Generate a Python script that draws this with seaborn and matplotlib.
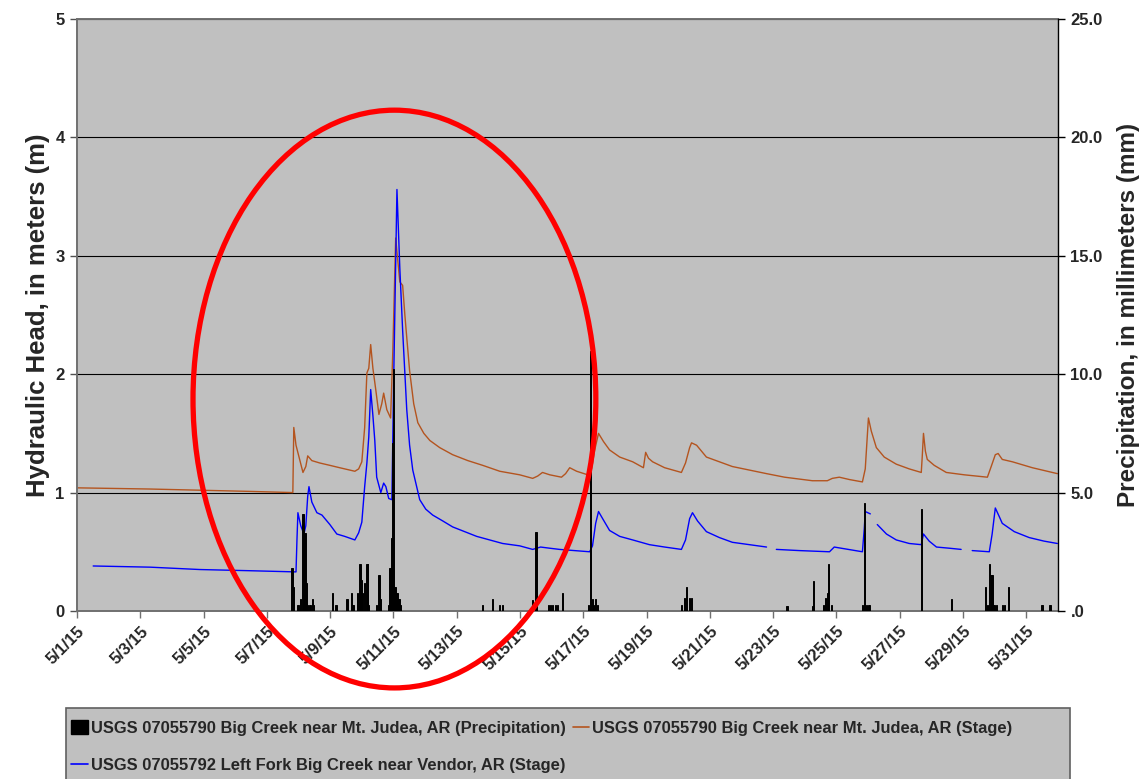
import numpy as np
import pandas as pd
import matplotlib
matplotlib.use("Agg")
import matplotlib.pyplot as plt
import matplotlib.dates as mdates
from matplotlib.patches import Ellipse, Rectangle, Patch
from matplotlib.lines import Line2D
import seaborn as sns

START = pd.Timestamp("2015-05-01")

# USGS 07055790 Big Creek near Mt. Judea, AR -- stage (days after 5/1/15 00:00, meters)
judea_days = [0.00, 2.30, 3.88, 5.46, 6.82, 6.85, 6.92, 7.14, 7.23, 7.29, 7.42, 7.67, 7.99,
              8.30, 8.78, 8.90, 9.00, 9.09, 9.16, 9.22, 9.28, 9.35, 9.44, 9.54, 9.63, 9.69,
              9.79, 9.91, 9.98, 10.07, 10.14, 10.20, 10.29, 10.36, 10.42, 10.51, 10.64, 10.77,
              10.96, 11.15, 11.46, 11.87, 12.35, 12.82, 13.36, 13.99, 14.40, 14.56, 14.71,
              14.94, 15.31, 15.44, 15.57, 15.79, 16.14, 16.26, 16.36, 16.48, 16.64, 16.83,
              17.15, 17.56, 17.90, 17.97, 18.06, 18.19, 18.57, 19.10, 19.23, 19.36, 19.42,
              19.58, 19.89, 20.30, 20.71, 21.25, 21.79, 22.36, 23.24, 23.71, 23.87, 24.09,
              24.41, 24.82, 24.91, 25.01, 25.10, 25.26, 25.51, 25.89, 26.30, 26.68, 26.71,
              26.75, 26.81, 26.87, 27.09, 27.47, 28.04, 28.77, 28.89, 29.02, 29.11, 29.24,
              29.56, 30.19, 30.98]
judea_stage = [1.04, 1.03, 1.02, 1.01, 1.00, 1.55, 1.40, 1.17, 1.22, 1.31, 1.27, 1.25, 1.23,
               1.21, 1.18, 1.20, 1.26, 1.55, 2.01, 2.05, 2.25, 2.05, 1.87, 1.66, 1.75, 1.84,
               1.70, 1.63, 2.20, 3.15, 2.95, 2.78, 2.75, 2.50, 2.31, 2.03, 1.75, 1.59,
               1.50, 1.44, 1.38, 1.32, 1.27, 1.23, 1.18, 1.15, 1.12, 1.14, 1.17,
               1.15, 1.13, 1.16, 1.21, 1.18, 1.15, 1.20, 1.36, 1.50, 1.43, 1.36,
               1.30, 1.26, 1.21, 1.34, 1.29, 1.26, 1.21, 1.17, 1.25, 1.38, 1.42,
               1.40, 1.30, 1.26, 1.22, 1.19, 1.16, 1.13, 1.10, 1.10, 1.12, 1.13,
               1.11, 1.09, 1.20, 1.63, 1.52, 1.38, 1.30, 1.24, 1.20, 1.17, 1.30,
               1.50, 1.35, 1.28, 1.23, 1.17, 1.15, 1.13, 1.22, 1.32, 1.33, 1.28,
               1.26, 1.21, 1.16]

# USGS 07055792 Left Fork Big Creek near Vendor, AR -- stage (NaN marks missing record)
vendor_days = [0.51, 2.31, 3.88, 5.46, 6.92, 6.95, 6.98, 7.07, 7.17, 7.23, 7.29, 7.33, 7.42,
               7.58, 7.74, 7.99, 8.21, 8.46, 8.78, 8.90, 9.00, 9.09, 9.16, 9.22, 9.28, 9.35,
               9.41, 9.47, 9.60, 9.69, 9.76, 9.85, 9.95, 10.01, 10.11, 10.20, 10.29, 10.42,
               10.51, 10.61, 10.83, 11.02, 11.24, 11.56, 11.87, 12.25, 12.63, 13.04, 13.45,
               13.99, 14.40, 14.65, 14.94, 15.25, 15.72, 16.20, 16.29, 16.39, 16.48, 16.61,
               16.83, 17.15, 17.56, 18.09, 18.57, 19.10, 19.23, 19.36, 19.45, 19.61, 19.89,
               20.30, 20.71, 21.25, 21.79, 21.95, 22.10, 22.83, 23.78, 23.93, 24.15, 24.82,
               24.88, 24.91, 25.07, 25.15, 25.29, 25.58, 25.89, 26.30, 26.68, 26.75, 26.93,
               27.16, 27.57, 27.94, 28.10, 28.29, 28.83, 28.92, 29.02, 29.14, 29.24, 29.62,
               30.09, 30.56, 30.98]
vendor_stage = [0.38, 0.37, 0.35, 0.34, 0.33, 0.60, 0.83, 0.72, 0.65, 0.72, 0.97, 1.05, 0.92,
                0.83, 0.81, 0.73, 0.65, 0.63, 0.60, 0.66, 0.75, 1.05, 1.25, 1.47, 1.87, 1.65,
                1.44, 1.13, 1.00, 1.08, 1.05, 0.95, 0.94, 2.00, 3.56, 2.90, 2.37, 1.70,
                1.40, 1.19, 0.94, 0.86, 0.81, 0.76, 0.71, 0.67, 0.63, 0.60, 0.57,
                0.55, 0.52, 0.54, 0.53, 0.52, 0.51, 0.50, 0.55, 0.74, 0.84, 0.78,
                0.68, 0.63, 0.60, 0.56, 0.54, 0.52, 0.60, 0.78, 0.83, 0.76, 0.67,
                0.62, 0.58, 0.56, 0.54, np.nan, 0.52, 0.51, 0.50, 0.54, 0.53, 0.50,
                0.70, 0.84, 0.82, np.nan, 0.73, 0.65, 0.60, 0.57, 0.56, 0.65, 0.59,
                0.54, 0.53, 0.52, np.nan, 0.51, 0.50, 0.65, 0.87, 0.80, 0.74, 0.67,
                0.62, 0.59, 0.57]

# USGS 07055790 hourly precipitation (days after 5/1/15 00:00, millimeters)
precip_days = [6.79, 6.82, 6.98, 7.07, 7.14, 7.20, 7.26, 7.29, 7.36, 7.45, 7.48, 8.08, 8.18,
               8.53, 8.68, 8.72, 8.87, 8.94, 9.00, 9.03, 9.09, 9.16, 9.19, 9.22, 9.47, 9.54,
               9.60, 9.85, 9.89, 9.93, 9.97, 10.01, 10.05, 10.11, 10.17, 10.23, 12.82, 13.14,
               13.36, 13.45, 14.40, 14.50, 14.90, 14.97, 15.03, 15.12, 15.19, 15.35, 16.17,
               16.23, 16.29, 16.32, 16.39, 16.45, 19.10, 19.20, 19.26, 19.36, 19.42, 22.42,
               22.45, 23.24, 23.27, 23.59, 23.65, 23.71, 23.74, 23.84, 24.82, 24.88, 24.94,
               25.01, 25.04, 26.68, 27.63, 28.70, 28.77, 28.83, 28.89, 28.92, 28.98, 29.05,
               29.24, 29.30, 29.43, 30.50, 30.75]
precip_mm = [1.8, 1.0, 0.25, 0.5, 4.1, 3.3, 1.2, 0.25, 0.25, 0.5, 0.25, 0.75, 0.25,
             0.5, 0.75, 0.25, 0.75, 2.0, 1.3, 0.75, 1.2, 2.0, 2.0, 0.25, 0.25, 1.5,
             0.5, 0.25, 1.8, 3.1, 7.1, 10.2, 1.0, 0.75, 0.5, 0.25, 0.25, 0.5,
             0.25, 0.25, 0.45, 3.35, 0.25, 0.25, 0.25, 0.25, 0.25, 0.75, 0.25,
             11.0, 0.5, 0.25, 0.5, 0.25, 0.25, 0.55, 1.0, 0.55, 0.55, 0.2,
             0.2, 0.2, 1.25, 0.25, 0.55, 0.75, 2.0, 0.25, 0.25, 4.55, 0.25,
             0.25, 0.25, 4.3, 0.5, 1.0, 0.25, 2.0, 1.5, 1.5, 0.25, 0.25,
             0.25, 0.25, 1.0, 0.25, 0.25]

tick_labels = ["5/1/15", "5/3/15", "5/5/15", "5/7/15", "5/9/15", "5/11/15", "5/13/15",
               "5/15/15", "5/17/15", "5/19/15", "5/21/15", "5/23/15", "5/25/15",
               "5/27/15", "5/29/15", "5/31/15"]
head_ticks = [0, 1, 2, 3, 4, 5]
precip_ticks = [0, 5, 10, 15, 20, 25]
precip_tick_labels = [".0", "5.0", "10.0", "15.0", "20.0", "25.0"]

LABEL_PRECIP = "USGS 07055790 Big Creek near Mt. Judea, AR (Precipitation)"
LABEL_JUDEA = "USGS 07055790 Big Creek near Mt. Judea, AR (Stage)"
LABEL_VENDOR = "USGS 07055792 Left Fork Big Creek near Vendor, AR (Stage)"

BROWN = "#B4541F"
BLUE = "#0000FF"
PANEL = "#C0C0C0"


def to_time(days):
    return START + pd.to_timedelta(np.asarray(days, dtype=float), unit="D")


judea = pd.DataFrame({"time": to_time(judea_days), "stage": judea_stage})
vendor = pd.DataFrame({"time": to_time(vendor_days), "stage": vendor_stage})
vendor["segment"] = vendor["stage"].isna().cumsum()
vendor = vendor.dropna()
precip = pd.DataFrame({"time": to_time(precip_days), "mm": precip_mm})

sns.set_theme(style="ticks")
plt.rcParams["font.family"] = ["Liberation Sans", "DejaVu Sans"]
plt.rcParams["font.weight"] = "bold"

TICK_FS = 12

fig = plt.figure(figsize=(11.43, 7.79), dpi=100)
ax = fig.add_axes([0.0674, 0.2157, 0.8582, 0.7599])
ax.set_facecolor(PANEL)

sns.lineplot(data=judea, x="time", y="stage", ax=ax, color=BROWN, lw=1.0, legend=False)
sns.lineplot(data=vendor, x="time", y="stage", units="segment", estimator=None, ax=ax,
             color=BLUE, lw=1.0, legend=False)

ax.set_xlim(START, START + pd.Timedelta(days=31))
ax.set_ylim(0, 5)
ax.set_yticks(head_ticks)
ax.set_yticklabels([str(t) for t in head_ticks], fontsize=TICK_FS, fontweight="bold")
tick_times = pd.date_range(START, periods=len(tick_labels), freq="2D")
ax.set_xticks(tick_times)
ax.set_xticklabels(tick_labels, rotation=45, ha="right", va="top", rotation_mode="anchor",
                   fontsize=TICK_FS, fontweight="bold")
ax.tick_params(axis="x", direction="out", length=5, width=1, color="#707070", pad=4)
ax.tick_params(axis="y", direction="out", length=5, width=1, color="#505050", pad=4)
ax.yaxis.grid(True, color="black", lw=0.8)
ax.xaxis.grid(False)
ax.set_axisbelow(True)
ax.set_xlabel("")
ax.set_ylabel("Hydraulic Head, in meters (m)", fontsize=18.5, fontweight="bold", labelpad=4)
for side in ["left", "bottom", "top"]:
    ax.spines[side].set_color("#707070")
    ax.spines[side].set_linewidth(1.4)
ax.spines["right"].set_visible(False)

ax2 = ax.twinx()
ax2.bar(precip["time"], precip["mm"], width=1 / 24, color="black", edgecolor="black",
        linewidth=0.7, align="center")
ax2.set_ylim(0, 25)
ax2.set_yticks(precip_ticks)
ax2.set_yticklabels(precip_tick_labels, fontsize=TICK_FS, fontweight="bold")
ax2.tick_params(axis="y", direction="out", length=5, width=1, color="black", pad=4)
ax2.set_ylabel("Precipitation, in millimeters (mm)", fontsize=17.5, fontweight="bold",
               labelpad=10)
for side in ["left", "bottom", "top"]:
    ax2.spines[side].set_visible(False)
ax2.spines["right"].set_color("black")
ax2.spines["right"].set_linewidth(1.0)
ax2.set_xlim(ax.get_xlim())

# Highlight around the 5/9-5/11 storm response
center_x = mdates.date2num(START + pd.Timedelta(days=10.03))
ring = Ellipse((center_x, 1.79), width=12.73, height=4.88, transform=ax.transData,
               facecolor="none", edgecolor="#FF0000", lw=3.8, clip_on=False, zorder=10)
ax2.add_artist(ring)

# Legend panel along the bottom edge
panel = Rectangle((66 / 1143, -0.05), (1070 - 66) / 1143, (779 - 708) / 779 + 0.05,
                  transform=fig.transFigure, facecolor=PANEL, edgecolor="#606060", lw=1.2)
fig.add_artist(panel)

legend_font = {"family": ["Liberation Sans", "DejaVu Sans"], "weight": "bold", "size": 11.9}

handles = [Patch(facecolor="black", edgecolor="black"),
           Line2D([], [], color=BLUE, lw=1.2),
           Line2D([], [], color=BROWN, lw=1.2)]
fig.legend(handles, [LABEL_PRECIP, LABEL_VENDOR, LABEL_JUDEA], ncol=2, loc="upper left",
           bbox_to_anchor=(68 / 1143, 1 - 717 / 779), frameon=False, prop=legend_font,
           handlelength=1.0, handleheight=0.9, handletextpad=0.2, columnspacing=0.4,
           labelspacing=1.3, borderaxespad=0, borderpad=0.2)

fig.savefig("out.png", dpi=100)
